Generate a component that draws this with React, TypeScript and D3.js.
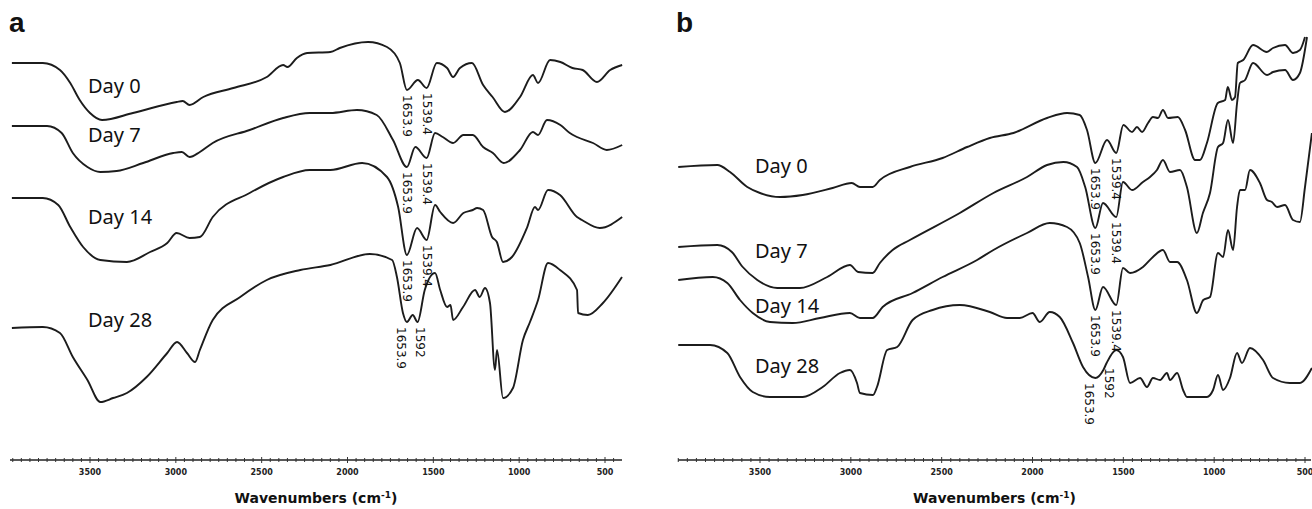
import React from 'react';
import * as d3 from 'd3';

type Pt = [number, number];

// wavenumber ticks (cm-1)
const TICKS = [3500, 3000, 2500, 2000, 1500, 1000, 500];
const DAYS = ['Day 0', 'Day 7', 'Day 14', 'Day 28'];
const PEAKS = [
    ['1653.9', '1539.4'],
    ['1653.9', '1539.4'],
    ['1653.9', '1539.4'],
    ['1653.9', '1592'],
];

// panel a: [wavenumber, transmittance (stacked, arb. units)]
const aDay0: Pt[] = [
    [3955, 397], [3775, 397], [3675, 390], [3615, 377], [3560, 360], [3500, 347], [3430, 340],
    [3250, 347], [2995, 358], [2960, 359], [2920, 355], [2840, 363], [2665, 372], [2470, 383],
    [2375, 395], [2350, 393], [2295, 402], [2235, 407], [2100, 408], [2045, 412], [1880, 418],
    [1770, 413], [1695, 397], [1654, 370], [1590, 380], [1539, 372], [1480, 397], [1420, 392],
    [1385, 383], [1345, 392], [1275, 397], [1210, 375], [1155, 363], [1083, 348], [995, 363],
    [920, 385], [890, 377], [820, 400], [760, 398], [690, 392], [630, 390], [547, 378],
    [470, 390], [400, 395],
];
const aDay7: Pt[] = [
    [3955, 334], [3750, 334], [3665, 327], [3600, 307], [3515, 293], [3440, 288], [3345, 289],
    [3190, 297], [3015, 307], [2965, 308], [2920, 303], [2860, 308], [2785, 317], [2570, 330],
    [2375, 342], [2220, 347], [2100, 347], [1945, 350], [1830, 345], [1735, 320], [1654, 293],
    [1605, 313], [1539, 302], [1490, 327], [1445, 323], [1385, 317], [1325, 325], [1270, 325],
    [1210, 313], [1153, 307], [1090, 297], [995, 310], [920, 328], [890, 325], [838, 340],
    [760, 335], [705, 327], [663, 323], [570, 317], [490, 310], [400, 315],
];
const aDay14: Pt[] = [
    [3955, 262], [3775, 262], [3685, 255], [3615, 233], [3540, 213], [3440, 200], [3285, 198],
    [3150, 208], [3050, 217], [2995, 227], [2920, 222], [2860, 223], [2785, 243], [2570, 267],
    [2375, 283], [2220, 290], [2100, 290], [1915, 297], [1770, 283], [1705, 253], [1654, 205],
    [1595, 232], [1539, 220], [1490, 255], [1460, 248], [1385, 237], [1325, 247], [1270, 250],
    [1245, 252], [1210, 250], [1158, 223], [1130, 218], [1094, 198], [1042, 203], [955, 232],
    [908, 253], [890, 250], [832, 270], [762, 265], [663, 243], [634, 240], [530, 232],
    [400, 243],
];
const aDay28: Pt[] = [
    [3955, 132], [3775, 133], [3675, 127], [3600, 103], [3515, 80], [3440, 58], [3365, 62],
    [3285, 67], [3170, 83], [3050, 107], [2993, 118], [2935, 107], [2888, 98], [2860, 110],
    [2785, 140], [2625, 163], [2470, 180], [2275, 190], [2100, 195], [1870, 206], [1740, 200],
    [1712, 183], [1677, 147], [1654, 138], [1620, 145], [1592, 138], [1550, 170], [1490, 187],
    [1460, 170], [1420, 153], [1400, 155], [1385, 140], [1327, 153], [1257, 170], [1230, 163],
    [1199, 172], [1170, 157], [1141, 90], [1129, 110], [1094, 62], [1036, 72], [978, 120],
    [937, 138], [890, 160], [832, 197], [762, 190], [663, 170], [657, 147], [600, 145],
    [512, 157], [401, 183],
];

// panel b
const bDay0: Pt[] = [
    [3950, 293], [3735, 295], [3665, 288], [3570, 273], [3500, 267], [3390, 263], [3265, 265],
    [3100, 272], [2995, 277], [2950, 273], [2880, 273], [2840, 280], [2675, 293], [2495, 302],
    [2360, 313], [2235, 322], [2105, 327], [1920, 342], [1810, 347], [1740, 345], [1700, 330],
    [1654, 297], [1590, 320], [1539, 307], [1500, 335], [1452, 328], [1425, 333], [1397, 328],
    [1364, 337], [1337, 343], [1309, 342], [1282, 350], [1254, 342], [1200, 343], [1160, 330],
    [1105, 300], [1078, 300], [1040, 317], [980, 357], [940, 360], [925, 373], [902, 360],
    [885, 363], [870, 397], [840, 400], [786, 415], [710, 408], [676, 412], [610, 415],
    [566, 407], [528, 410], [500, 423],
];
const bDay7: Pt[] = [
    [3950, 213], [3735, 215], [3655, 208], [3595, 193], [3515, 180], [3405, 172], [3280, 172],
    [3130, 183], [3005, 195], [2960, 188], [2880, 187], [2840, 197], [2770, 210], [2675, 220],
    [2400, 247], [2215, 267], [2030, 283], [1920, 295], [1830, 298], [1755, 293], [1710, 273],
    [1654, 232], [1612, 257], [1539, 243], [1502, 278], [1452, 270], [1392, 278], [1353, 283],
    [1315, 290], [1282, 300], [1243, 288], [1188, 290], [1150, 273], [1095, 227], [1062, 247],
    [1023, 267], [979, 313], [951, 317], [924, 340], [896, 317], [874, 357], [858, 377],
    [830, 380], [786, 397], [709, 385], [676, 388], [610, 390], [566, 380], [528, 387],
    [489, 423],
];
const bDay14: Pt[] = [
    [3950, 180], [3760, 183], [3680, 177], [3610, 160], [3540, 147], [3445, 138], [3320, 137],
    [3170, 142], [3005, 147], [2950, 142], [2880, 142], [2825, 153], [2660, 167], [2495, 183],
    [2305, 200], [2215, 210], [2030, 227], [1905, 237], [1810, 233], [1740, 217], [1694, 183],
    [1654, 150], [1612, 173], [1539, 155], [1502, 192], [1463, 187], [1392, 193], [1337, 203],
    [1282, 210], [1243, 198], [1204, 198], [1150, 180], [1095, 147], [1060, 160], [1023, 163],
    [979, 207], [951, 203], [924, 230], [896, 210], [874, 253], [858, 270], [830, 270],
    [803, 290], [748, 277], [709, 260], [682, 258], [654, 253], [610, 255], [566, 240],
    [528, 238], [500, 273], [462, 327],
];
const bDay28: Pt[] = [
    [3950, 115], [3775, 115], [3680, 107], [3610, 83], [3540, 68], [3445, 63], [3265, 63],
    [3155, 73], [3060, 87], [3005, 90], [2966, 77], [2950, 67], [2878, 65], [2856, 73],
    [2800, 110], [2745, 113], [2660, 140], [2550, 150], [2400, 155], [2235, 148], [2140, 142],
    [2070, 142], [2000, 147], [1960, 138], [1905, 148], [1850, 143], [1777, 117], [1722, 93],
    [1654, 82], [1610, 90], [1592, 97], [1539, 110], [1502, 103], [1463, 77], [1408, 82],
    [1370, 73], [1337, 82], [1298, 80], [1260, 87], [1243, 80], [1204, 87], [1171, 70],
    [1150, 63], [1040, 63], [1006, 70], [979, 85], [951, 70], [913, 82], [874, 107],
    [847, 97], [803, 112], [731, 100], [676, 82], [583, 77], [528, 77], [462, 92],
];

const W = 1312;
const H = 509;
const AXIS_Y = 460;

const y = d3.scaleLinear().domain([0, 440]).range([AXIS_Y, 20]);

const panels = [
    {
        id: 'a',
        series: [aDay0, aDay7, aDay14, aDay28],
        x: d3.scaleLinear().domain([3500, 500]).range([90, 605]),
        axisX: [10, 622],
        letterX: 9,
        dayX: 88,
        dayY: [93, 142, 224, 327],
    },
    {
        id: 'b',
        series: [bDay0, bDay7, bDay14, bDay28],
        x: d3.scaleLinear().domain([3500, 500]).range([760, 1305]),
        axisX: [678, 1311],
        letterX: 676,
        dayX: 755,
        dayY: [173, 258, 313, 373],
    },
];

// nudge for crowded labels on the last trace
const PEAK_DX = [[0, 0], [0, 0], [0, 0], [-6, 2]];

const valueAt = (s: Pt[], wn: number) =>
    s.reduce((best, p) => (Math.abs(p[0] - wn) < Math.abs(best[0] - wn) ? p : best))[1];

const Panel = ({ p }: { p: typeof panels[number] }) => {
    const line = d3.line<Pt>()
        .x(d => p.x(d[0]))
        .y(d => y(d[1]))
        .curve(d3.curveMonotoneX);
    const [x0, x1] = p.axisX;
    const wnMin = p.x.invert(x1);
    const wnMax = p.x.invert(x0);
    const minor = d3.range(400, 4001, 50).filter(v => v >= wnMin && v <= wnMax);
    const cx = (x0 + x1) / 2;

    return (
        <g>
            <text x={p.letterX} y={32} fontFamily="Liberation Sans, Arial, sans-serif"
                  fontWeight="bold" fontSize={28} fill="#111">{p.id}</text>

            {p.series.map((s, i) => (
                <path key={i} d={line(s) || ''} fill="none" stroke="#1c1c1c"
                      strokeWidth={1.9} strokeLinejoin="round" />
            ))}

            {DAYS.map((d, i) => (
                <text key={d} x={p.dayX} y={p.dayY[i]} fontFamily="Noto Sans, sans-serif"
                      fontSize={20} fill="#111">{d}</text>
            ))}

            {PEAKS.map((labels, i) => labels.map((l, j) => {
                const wn = +l;
                const px = p.x(wn) + PEAK_DX[i][j];
                const py = y(valueAt(p.series[i], wn)) + 5;
                return (
                    <text key={i + l} transform={`translate(${px},${py}) rotate(90)`}
                          dominantBaseline="central" fontFamily="DejaVu Sans, sans-serif"
                          fontSize={12} fill="#111">{l}</text>
                );
            }))}

            {/* x axis */}
            <line x1={x0} x2={x1} y1={AXIS_Y} y2={AXIS_Y} stroke="#222" strokeWidth={1.6} />
            {minor.map(v => (
                <line key={v} x1={p.x(v)} x2={p.x(v)}
                      y1={AXIS_Y - (v % 500 === 0 ? 3 : 2)} y2={AXIS_Y + (v % 500 === 0 ? 3 : 2)}
                      stroke="#333" strokeWidth={1} />
            ))}
            {TICKS.map(t => (
                <text key={t} x={p.x(t)} y={475} textAnchor="middle"
                      fontFamily="DejaVu Sans, sans-serif" fontWeight="bold" fontSize={8}
                      fill="#222">{t}</text>
            ))}
            <text x={cx} y={503} textAnchor="middle" fontFamily="DejaVu Sans, sans-serif"
                  fontWeight="bold" fontSize={14} fill="#111">
                Wavenumbers (cm<tspan dy={-5} fontSize={9}>-1</tspan><tspan dy={5}>)</tspan>
            </text>
        </g>
    );
};

const App = () => (
    <div style={{ position: 'absolute', left: 0, top: 0 }}>
        <svg width={W} height={H} style={{ display: 'block', background: '#fff' }}>
            {panels.map(p => <Panel key={p.id} p={p} />)}
        </svg>
    </div>
);

export default App;
